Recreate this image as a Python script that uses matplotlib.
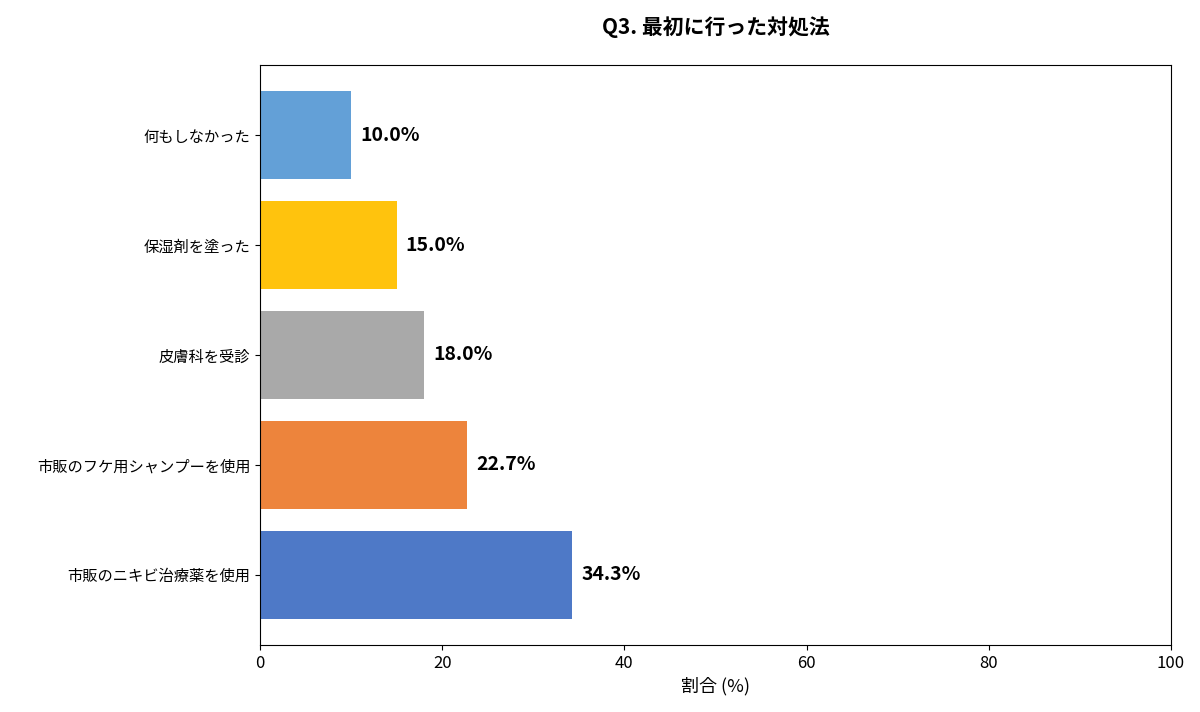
import matplotlib
matplotlib.use("Agg")
import matplotlib.pyplot as plt

plt.rcParams['font.family'] = ['Noto Sans CJK JP', 'DejaVu Sans']

categories = ["市販のニキビ治療薬を使用", "市販のフケ用シャンプーを使用", "皮膚科を受診", "保湿剤を塗った", "何もしなかった"]
values = [34.3, 22.7, 18.0, 15.0, 10.0]
colors = ["#4472C4", "#ED7D31", "#A5A5A5", "#FFC000", "#5B9BD5"]

fig = plt.figure(figsize=(12, 7.12), dpi=100)
ax = fig.add_axes([260/1200, 1-645/712, 911/1200, 580/712])
bars = ax.barh(categories, values, height=0.8, color=colors, alpha=0.95)
for b, v in zip(bars, values):
    ax.text(v + 1, b.get_y() + b.get_height()/2, f"{v:.1f}%", va="center", ha="left",
            fontsize=14, fontweight="bold")
ax.set_xlim(0, 100)
ax.set_xticks([0, 20, 40, 60, 80, 100])
ax.tick_params(axis='x', labelsize=12)
ax.tick_params(axis='y', labelsize=11)
ax.set_xlabel("割合 (%)", fontsize=13)
ax.set_title("Q3. 最初に行った対処法", fontsize=15, fontweight="bold", pad=22)
fig.savefig("out.png", dpi=100)
